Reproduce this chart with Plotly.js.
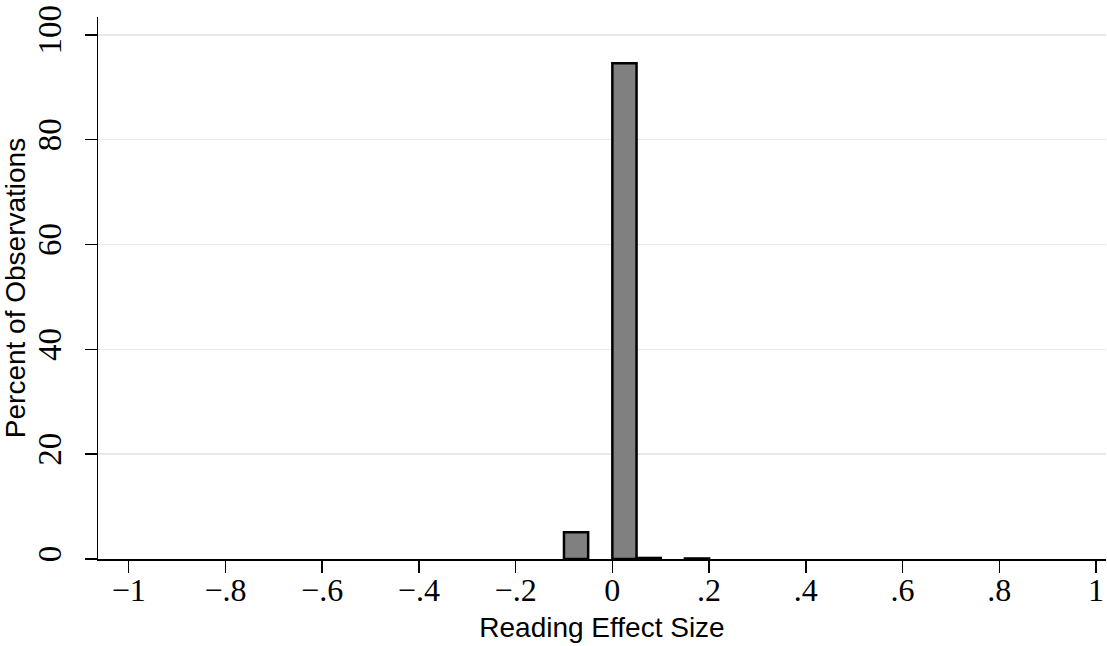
<!DOCTYPE html>
<html>
<head>
<meta charset="utf-8">
<script src="https://cdn.plot.ly/plotly-3.0.1.min.js"></script>
<style>html,body{margin:0;padding:0;background:#fff;}#chart{width:1107px;height:646px;}</style>
</head>
<body>
<div id="chart"></div>
<script>
// Histogram bins (bin centers, width 0.05) and percent of observations
var binCenters = [-0.075, 0.025, 0.075, 0.175];
var binWidths = [0.05, 0.05, 0.05, 0.05];
var percents = [5.1, 94.6, 0.2, 0.1];

var xTickVals = [-1, -0.8, -0.6, -0.4, -0.2, 0, 0.2, 0.4, 0.6, 0.8, 1];
var xTickText = ["\u22121", "\u2212.8", "\u2212.6", "\u2212.4", "\u2212.2", "0", ".2", ".4", ".6", ".8", "1"];
var yTickVals = [0, 20, 40, 60, 80, 100];
var yTickText = ["0", "20", "40", "60", "80", "100"];

var trace = {
  type: 'bar',
  x: binCenters,
  y: percents,
  width: binWidths,
  marker: {color: '#808080', line: {color: '#000000', width: 2.5}},
  hoverinfo: 'x+y'
};

var serif = '"Liberation Serif", "Times New Roman", serif';
var titleFont = {family: '"Liberation Sans", Arial, sans-serif', size: 28, color: '#000'};

var layout = {
  width: 1107, height: 646,
  margin: {l: 98, r: 1, t: 17, b: 87},
  paper_bgcolor: '#ffffff', plot_bgcolor: '#ffffff',
  showlegend: false,
  bargap: 0,
  xaxis: {
    range: [-1.0634, 1.0206],
    tickmode: 'array', tickvals: xTickVals, ticktext: xTickText,
    ticks: 'outside', ticklen: 12, tickwidth: 1.5, tickcolor: '#000',
    ticklabelstandoff: -10,
    showline: true, linecolor: '#000', linewidth: 1.5,
    showgrid: false, zeroline: false,
    tickfont: {family: serif, size: 32, color: '#000'},
    title: {text: 'Reading Effect Size', font: titleFont, standoff: 10},
    automargin: false
  },
  yaxis: {
    range: [0, 103.4],
    tickmode: 'array', tickvals: yTickVals, ticktext: yTickText,
    tickangle: -90,
    ticks: 'outside', ticklen: 12, tickwidth: 1.5, tickcolor: '#000',
    ticklabelstandoff: 10,
    showline: true, linecolor: '#000', linewidth: 1.5,
    showgrid: true, gridcolor: '#e8e8e8', gridwidth: 1.5,
    zeroline: false,
    tickfont: {family: serif, size: 33, color: '#000'},
    title: {text: 'Percent of Observations', font: titleFont, standoff: 2},
    automargin: false
  }
};

Plotly.newPlot('chart', [trace], layout, {displayModeBar: false, staticPlot: true});
</script>
</body>
</html>
